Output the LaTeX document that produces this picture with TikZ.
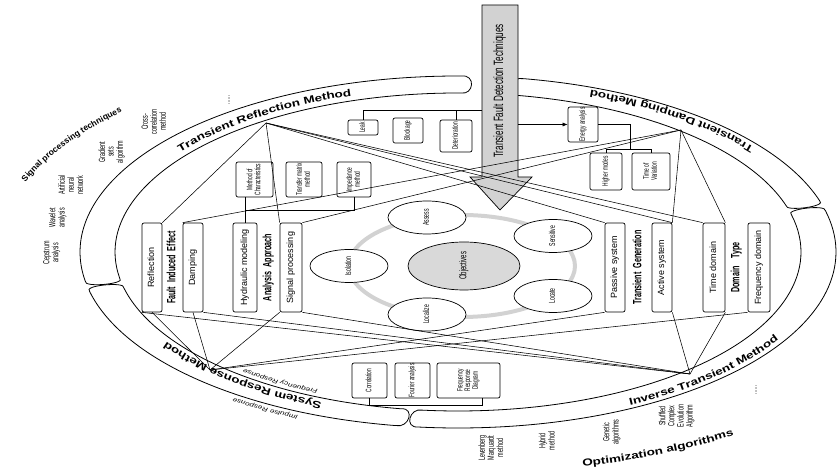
\documentclass[tikz,border=0pt]{standalone}
\usepackage{fontspec}
\usepackage{graphicx}
\setmainfont{Liberation Sans}
\newfontfamily\cnd[FakeStretch=0.6]{Liberation Sans}
\newfontfamily\wdf[FakeStretch=1.35]{Liberation Sans}
\usetikzlibrary{calc,decorations.text,arrows.meta,shapes.geometric}
\newcommand\rt[1]{\rotatebox{90}{\begin{tabular}{@{}c@{}}#1\end{tabular}}}
\renewcommand\arraystretch{0.85}
\newcommand\ringband[2]{%
  \draw[band] ($(C)+(#1:378 and 176)$) arc[start angle=#1,end angle=#2,x radius=378,y radius=176]
   .. controls ($(C)+({#2+2.2}:383 and 178)$) and ($(C)+({#2+2.2}:338 and 157)$) .. ($(C)+(#2:343 and 159)$)
   arc[start angle=#2,end angle=#1,x radius=343,y radius=159]
   .. controls ($(C)+({#1-2.2}:338 and 157)$) and ($(C)+({#1-2.2}:383 and 178)$) .. cycle;}
\tikzset{
  bx/.style={draw, rounded corners=2pt, line width=0.7pt, fill=white, inner sep=0pt, font=\fontsize{9}{9}\selectfont},
  sbx/.style={bx, font=\cnd\fontsize{8}{8}\selectfont},
  band/.style={draw, line width=0.8pt},
  ln/.style={line width=0.55pt},
  lab/.style={font=\cnd\bfseries\fontsize{12}{12}\selectfont, inner sep=0pt},
  lst/.style={font=\cnd\fontsize{9}{10}\selectfont, inner sep=0pt},
  sel/.style={ellipse, draw, fill=white, line width=0.7pt, minimum width=78, minimum height=33, inner sep=0pt, font=\cnd\fontsize{8.5}{8.5}\selectfont},
  curvb/.style={decorate, decoration={text along path, text align=center, text={#1}}}
}
\begin{document}
\begin{tikzpicture}[x=1pt,y=1pt]
\useasboundingbox (0,0) rectangle (838,470);
\coordinate (C) at (458,218);

% ring bands
\ringband{89.5}{189.5}
\ringband{193}{260.5}
\ringband{264}{373.5}
\ringband{17}{80}

% curved band titles
\path[curvb={|\wdf\bfseries\fontsize{10}{10}\selectfont|Transient Reflection Method}]
  ($(C)+(154:350 and 164)$) arc[start angle=154,end angle=100,x radius=350,y radius=164];
\path[curvb={|\wdf\bfseries\fontsize{10}{10}\selectfont|Transient Damping Method}]
  ($(C)+(24:372 and 173)$) arc[start angle=24,end angle=78,x radius=372,y radius=173];
\path[curvb={|\wdf\bfseries\fontsize{10}{10}\selectfont|Inverse Transient Method}]
  ($(C)+(292:372 and 173)$) arc[start angle=292,end angle=338,x radius=372,y radius=173];
\path[curvb={|\wdf\bfseries\fontsize{10}{10}\selectfont|System Response Method}]
  ($(C)+(252:349 and 163)$) arc[start angle=252,end angle=206,x radius=349,y radius=163];
\path[curvb={|\wdf\itshape\fontsize{6}{6}\selectfont|Frequency Response}]
  ($(C)+(252:334 and 152)$) arc[start angle=252,end angle=222,x radius=334,y radius=152];
\path[curvb={|\wdf\itshape\fontsize{6}{6}\selectfont|Impulse Response}]
  ($(C)+(254:383 and 180)$) arc[start angle=254,end angle=224,x radius=383,y radius=180];
\path[curvb={|\bfseries\fontsize{8.5}{8.5}\selectfont|Signal processing techniques}]
  ($(C)+(166:460 and 205)$) arc[start angle=166,end angle=133,x radius=460,y radius=205];
\path[curvb={|\wdf\bfseries\fontsize{10}{10}\selectfont|Optimization algorithms}]
  ($(C)+(279:490 and 222)$) arc[start angle=279,end angle=311,x radius=490,y radius=222];

% central ring and objectives
\draw[gray!35, line width=4pt] (462,204) ellipse [x radius=113, y radius=51];
\node[sel, fill=gray!30, minimum width=112, minimum height=48, font=\cnd\fontsize{10}{10}\selectfont] (objv) at (464,204) {\rt{Objectives}};
\node[sel] (e1) at (349,204) {\rt{Isolation}};
\node[sel] (e2) at (427,252.5) {\rt{Assess}};
\node[sel] (e3) at (553,234) {\rt{Sensitive}};
\node[sel] (e4) at (553,174) {\rt{Locate}};
\node[sel] (e5) at (427,155.5) {\rt{Localize}};

% big arrow
\draw[fill=gray!35, line width=0.7pt] (482,465) -- (518,465) -- (518,293) -- (532,293) -- (500,260) -- (470,293) -- (482,293) -- cycle;
\node[inner sep=0pt, minimum width=36, minimum height=172, font=\cnd\fontsize{13.5}{13.5}\selectfont] (sh) at (500,379) {\rt{Transient Fault Detection Techniques}};

% attribute boxes (left)
\node[bx, minimum width=20, minimum height=89] (refl) at (152,202.5) {\rt{Reflection}};
\node[bx, minimum width=20, minimum height=89] (damp) at (193,202.5) {\rt{Damping}};
\node[bx, minimum width=24, minimum height=89] (hyd) at (245,202.5) {\rt{Hydraulic modeling}};
\node[bx, minimum width=22, minimum height=89] (sig) at (291,202.5) {\rt{Signal processing}};
\node[lab] (fie) at (172.5,202.5) {\rt{Fault\ \ Induced\ \ Effect}};
\node[lab] (aap) at (268.5,202.5) {\rt{Analysis\ \ Approach}};
% attribute boxes (right)
\node[bx, minimum width=20, minimum height=89] (pas) at (615,202.5) {\rt{Passive system}};
\node[bx, minimum width=20, minimum height=89] (act) at (662,202.5) {\rt{Active system}};
\node[bx, minimum width=22, minimum height=89] (time) at (714,202.5) {\rt{Time domain}};
\node[bx, minimum width=22, minimum height=89] (freq) at (759,202.5) {\rt{Frequency domain}};
\node[lab] (tgn) at (638.5,202.5) {\rt{Transient\ \ Generation}};
\node[lab] (dty) at (736.5,202.5) {\rt{Domain\ \ \ \ Type}};

% small boxes
\node[sbx, minimum width=37, minimum height=35] (moc) at (254.5,290.5) {\rt{Method of\\Characteristics}};
\node[sbx, minimum width=36, minimum height=35] (tmm) at (304,290.5) {\rt{Transfer matrix\\method}};
\node[sbx, minimum width=34, minimum height=35] (imp) at (354,290.5) {\rt{Impedance\\method}};
\node[sbx, minimum width=30, minimum height=15] (leak) at (363,342.5) {\rt{Leak}};
\node[sbx, minimum width=30, minimum height=25] (block) at (408,339.5) {\rt{Blockage}};
\node[sbx, minimum width=32, minimum height=32] (deter) at (456,334) {\rt{Deterioration}};
\node[sbx, minimum width=30, minimum height=35] (energy) at (583,345.5) {\rt{Energy analysis}};
\node[sbx, minimum width=32, minimum height=37] (hm) at (606,298.5) {\rt{Higher modes}};
\node[sbx, minimum width=38, minimum height=37] (tv) at (651,298.5) {\rt{Time of\\Variation}};
\node[sbx, minimum width=35, minimum height=35] (b1) at (369.5,89.5) {\rt{Correlation}};
\node[sbx, minimum width=35, minimum height=35] (b2) at (412.5,89.5) {\rt{Fourier analysis}};
\node[sbx, minimum width=63, minimum height=35] (b3) at (468.5,89.5) {\rt{Frequency\\Response\\Diagram}};

% brackets
\coordinate (brk) at (0,360);
\coordinate (eb) at (630,321);
\coordinate (sb) at (482,65);
\draw[ln] (moc.south -| hyd.north) -- (hyd.north);
\draw[ln] (imp.south) -- ++(0,-13) -| (hyd.north);
\draw[ln] (leak.north) |- (sh.west |- brk);
\draw[ln] (deter.north) -- (deter.north |- brk);
\draw[ln, -{Latex[length=5pt,width=4pt]}] (sh.east |- energy.west) -- (energy.west);
\draw[ln] (energy.east) -| (eb);
\draw[ln] (hm.north) |- (eb);
\draw[ln] (tv.north) |- (eb);
\draw[ln] (b1.south) |- (sb) -- (sb |- b3.south);

% method points and connectors
\coordinate (TRM) at (266,347);
\coordinate (TDM) at (681,340);
\coordinate (SRM) at (210,100);
\coordinate (ITM) at (690,96);
\draw[ln] (TRM) -- (refl.north east);
\draw[ln] (TRM) -- (sig.north west);
\draw[ln] (TRM) -- (pas.north west);
\draw[ln] (TRM) -- (act.north east);
\draw[ln] (TRM) -- (time.north west);
\draw[ln] (TDM) -- (damp.north west);
\draw[ln] (TDM) -- (sig.north east);
\draw[ln] (TDM) -- (act.north east);
\draw[ln] (TDM) -- (time.north east);
\draw[ln] (SRM) -- (refl.south);
\draw[ln] (SRM) -- (damp.south);
\draw[ln] (SRM) -- (sig.south west);
\draw[ln] (SRM) -- (pas.south west);
\draw[ln] (SRM) -- (freq.south west);
\draw[ln] (ITM) -- (refl.south west);
\draw[ln] (ITM) -- (damp.south east);
\draw[ln] (ITM) -- (sig.south east);
\draw[ln] (ITM) -- (act.south east);
\draw[ln] (ITM) -- (time.south east);

% outer lists
\node[lst] (l1) at (52,217) {\rt{Cepstrum\\analysis}};
\node[lst] (l2) at (58,252) {\rt{Wavelet\\analysis}};
\node[lst] (l3) at (72,285) {\rt{Artificial\\neural\\network}};
\node[lst] (l4) at (112,318) {\rt{Gradient\\sets\\algorithm}};
\node[lst] (l5) at (155,348) {\rt{Cross-\\correlation\\method}};
\node[lst] (l6) at (228,370) {\rt{......}};
\node[lst] (m1) at (492,22) {\rt{Levenberg\\Marquardt\\method}};
\node[lst] (m2) at (548,29) {\rt{Hybrid\\method}};
\node[lst] (m3) at (612,38) {\rt{Genetic\\algorithms}};
\node[lst] (m4) at (677,54) {\rt{Shuffled\\Complex\\Evolution\\Algorithm}};
\node[lst] (m5) at (755,80) {\rt{......}};
\end{tikzpicture}
\end{document}
